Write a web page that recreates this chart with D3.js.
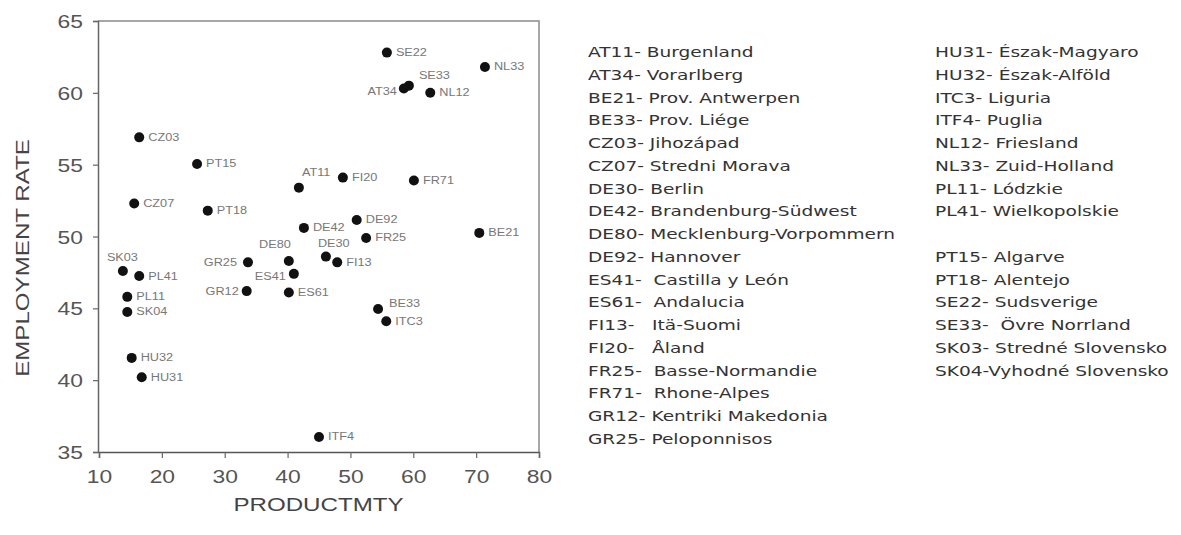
<!DOCTYPE html>
<html>
<head>
<meta charset="utf-8">
<script src="https://cdn.jsdelivr.net/npm/d3@7"></script>
<style>
  html, body { margin: 0; padding: 0; background: #fff; }
  svg { display: block; }
  text { white-space: pre; }
</style>
</head>
<body>
<svg id="chart" width="1181" height="535"></svg>
<script>
// Regions: NUTS code, productivity, employment rate
const codes = ["SE22","NL33","SE33","AT34","NL12","CZ03","PT15","AT11","FI20","FR71",
               "CZ07","PT18","DE42","DE92","FR25","BE21","DE80","DE30","FI13","GR25",
               "ES41","GR12","ES61","SK03","PL41","PL11","SK04","HU32","HU31","BE33",
               "ITC3","ITF4"];
const productivity = [55.8, 71.4, 59.3, 58.5, 62.7, 16.4, 25.6, 41.8, 48.8, 60.1,
                      15.6, 27.3, 42.6, 51.0, 52.5, 70.5, 40.2, 46.1, 47.9, 33.7,
                      41.0, 33.5, 40.2, 13.8, 16.4, 14.5, 14.5, 15.2, 16.8, 54.4,
                      55.7, 45.0];
const employment = [62.8, 61.8, 60.5, 60.3, 60.0, 56.9, 55.05, 53.4, 54.1, 53.9,
                    52.3, 51.8, 50.6, 51.15, 49.9, 50.25, 48.3, 48.6, 48.2, 48.2,
                    47.4, 46.2, 46.1, 47.6, 47.25, 45.8, 44.75, 41.55, 40.2, 44.95,
                    44.1, 36.05];

const xTicks = [10, 20, 30, 40, 50, 60, 70, 80];
const yTicks = [35, 40, 45, 50, 55, 60, 65];

const legendLeft = [
  "AT11- Burgenland", "AT34- Vorarlberg", "BE21- Prov. Antwerpen", "BE33- Prov. Liége",
  "CZ03- Jihozápad", "CZ07- Stredni Morava", "DE30- Berlin", "DE42- Brandenburg-Südwest",
  "DE80- Mecklenburg-Vorpommern", "DE92- Hannover", "ES41-  Castilla y León",
  "ES61-  Andalucia", "FI13-   Itä-Suomi", "FI20-   Åland", "FR25-  Basse-Normandie",
  "FR71-  Rhone-Alpes", "GR12- Kentriki Makedonia", "GR25- Peloponnisos"
];
const legendRight = [
  "HU31- Észak-Magyaro", "HU32- Észak-Alföld", "ITC3- Liguria", "ITF4- Puglia",
  "NL12- Friesland", "NL33- Zuid-Holland", "PL11- Lódzkie", "PL41- Wielkopolskie",
  "", "PT15- Algarve", "PT18- Alentejo", "SE22- Sudsverige", "SE33-  Övre Norrland",
  "SK03- Stredné Slovensko", "SK04-Vyhodné Slovensko"
];

const xTitle = "PRODUCTMTY";
const yTitle = "EMPLOYMENT RATE";

// ---- layout ----
const svg = d3.select("#chart");
const plot = { left: 98, right: 539, top: 21, bottom: 452 };
const x = d3.scaleLinear().domain([10, 80]).range([plot.left + 1, plot.right]);
const y = d3.scaleLinear().domain([35, 65]).range([plot.bottom, plot.top]);
const SX = 1.27; // the typeface is drawn wide

// label placement for crowded points
const labelPlace = {
  SE33: { dx: 10, dy: -10, anchor: "start" },
  AT34: { dx: -7, dy: 3, anchor: "end" },
  AT11: { dx: 3, dy: -15, anchor: "start" },
  DE80: { dx: 2, dy: -16, anchor: "end" },
  DE30: { dx: -8, dy: -13, anchor: "start" },
  GR25: { dx: -11, dy: 0, anchor: "end" },
  ES41: { dx: -8, dy: 3, anchor: "end" },
  GR12: { dx: -8, dy: 0, anchor: "end" },
  SK03: { dx: -16, dy: -13, anchor: "start" },
  BE33: { dx: 11, dy: -6, anchor: "start" }
};

// frame (top and right)
svg.append("path")
  .attr("d", `M${plot.left},${plot.top}H${plot.right}V${plot.bottom}`)
  .attr("fill", "none").attr("stroke", "#8a8a8a").attr("stroke-width", 1.5);

// y axis
const gy = svg.append("g").attr("transform", `translate(${plot.left},0)`)
  .call(d3.axisLeft(y).tickValues(yTicks).tickSize(5).tickFormat(d3.format("d")));
gy.select(".domain").attr("stroke", "#666").attr("stroke-width", 1.5);
gy.selectAll(".tick line").attr("stroke", "#666").attr("stroke-width", 1.2);
gy.selectAll(".tick text")
  .attr("x", null).attr("dy", null)
  .attr("transform", `translate(-15,6.5) scale(${SX},1)`)
  .attr("text-anchor", "end")
  .attr("font-family", "Liberation Sans, Arial, sans-serif")
  .attr("font-size", 18).attr("fill", "#555");

// x axis
const gx = svg.append("g").attr("transform", `translate(0,${plot.bottom})`)
  .call(d3.axisBottom(x).tickValues(xTicks).tickSize(6).tickFormat(d3.format("d")));
gx.select(".domain").attr("stroke", "#555").attr("stroke-width", 1.5);
gx.selectAll(".tick line").attr("stroke", "#666").attr("stroke-width", 1.2);
gx.selectAll(".tick text")
  .attr("y", null).attr("dy", null)
  .attr("transform", `translate(0,31) scale(${SX},1)`)
  .attr("font-family", "Liberation Sans, Arial, sans-serif")
  .attr("font-size", 18).attr("fill", "#555");

// axis titles
svg.append("text")
  .attr("transform", `translate(${(plot.left + plot.right) / 2},511) scale(${SX},1)`)
  .attr("text-anchor", "middle")
  .attr("font-family", "Liberation Sans, Arial, sans-serif")
  .attr("font-size", 19).attr("fill", "#444").text(xTitle);

svg.append("text")
  .attr("transform", `translate(29,258) rotate(-90) scale(${SX},1)`)
  .attr("text-anchor", "middle")
  .attr("font-family", "Liberation Sans, Arial, sans-serif")
  .attr("font-size", 19).attr("fill", "#444").text(yTitle);

// points
const pts = codes.map((c, i) => ({ code: c, px: productivity[i], py: employment[i] }));

svg.append("g").selectAll("circle").data(pts).join("circle")
  .attr("cx", d => x(d.px)).attr("cy", d => y(d.py))
  .attr("r", 5).attr("fill", "#111");

svg.append("g").selectAll("text").data(pts).join("text")
  .attr("transform", d => {
    const p = labelPlace[d.code] || { dx: 9, dy: 0 };
    return `translate(${x(d.px) + p.dx},${y(d.py) + p.dy + 3.5}) scale(${SX},1)`;
  })
  .attr("text-anchor", d => (labelPlace[d.code] || {}).anchor || "start")
  .attr("font-family", "Liberation Sans, Arial, sans-serif")
  .attr("font-size", 10).attr("fill", "#777")
  .text(d => d.code);

// region legend
function legendColumn(items, x0) {
  svg.append("g").selectAll("text").data(items).join("text")
    .attr("transform", (d, i) => `translate(${x0},${52 + i * 22.75 + 5}) scale(1.28,1)`)
    .attr("font-family", "DejaVu Sans, Verdana, sans-serif")
    .attr("font-size", 14.5).attr("fill", "#333")
    .text(d => d);
}
legendColumn(legendLeft, 588);
legendColumn(legendRight, 935);
</script>
</body>
</html>
